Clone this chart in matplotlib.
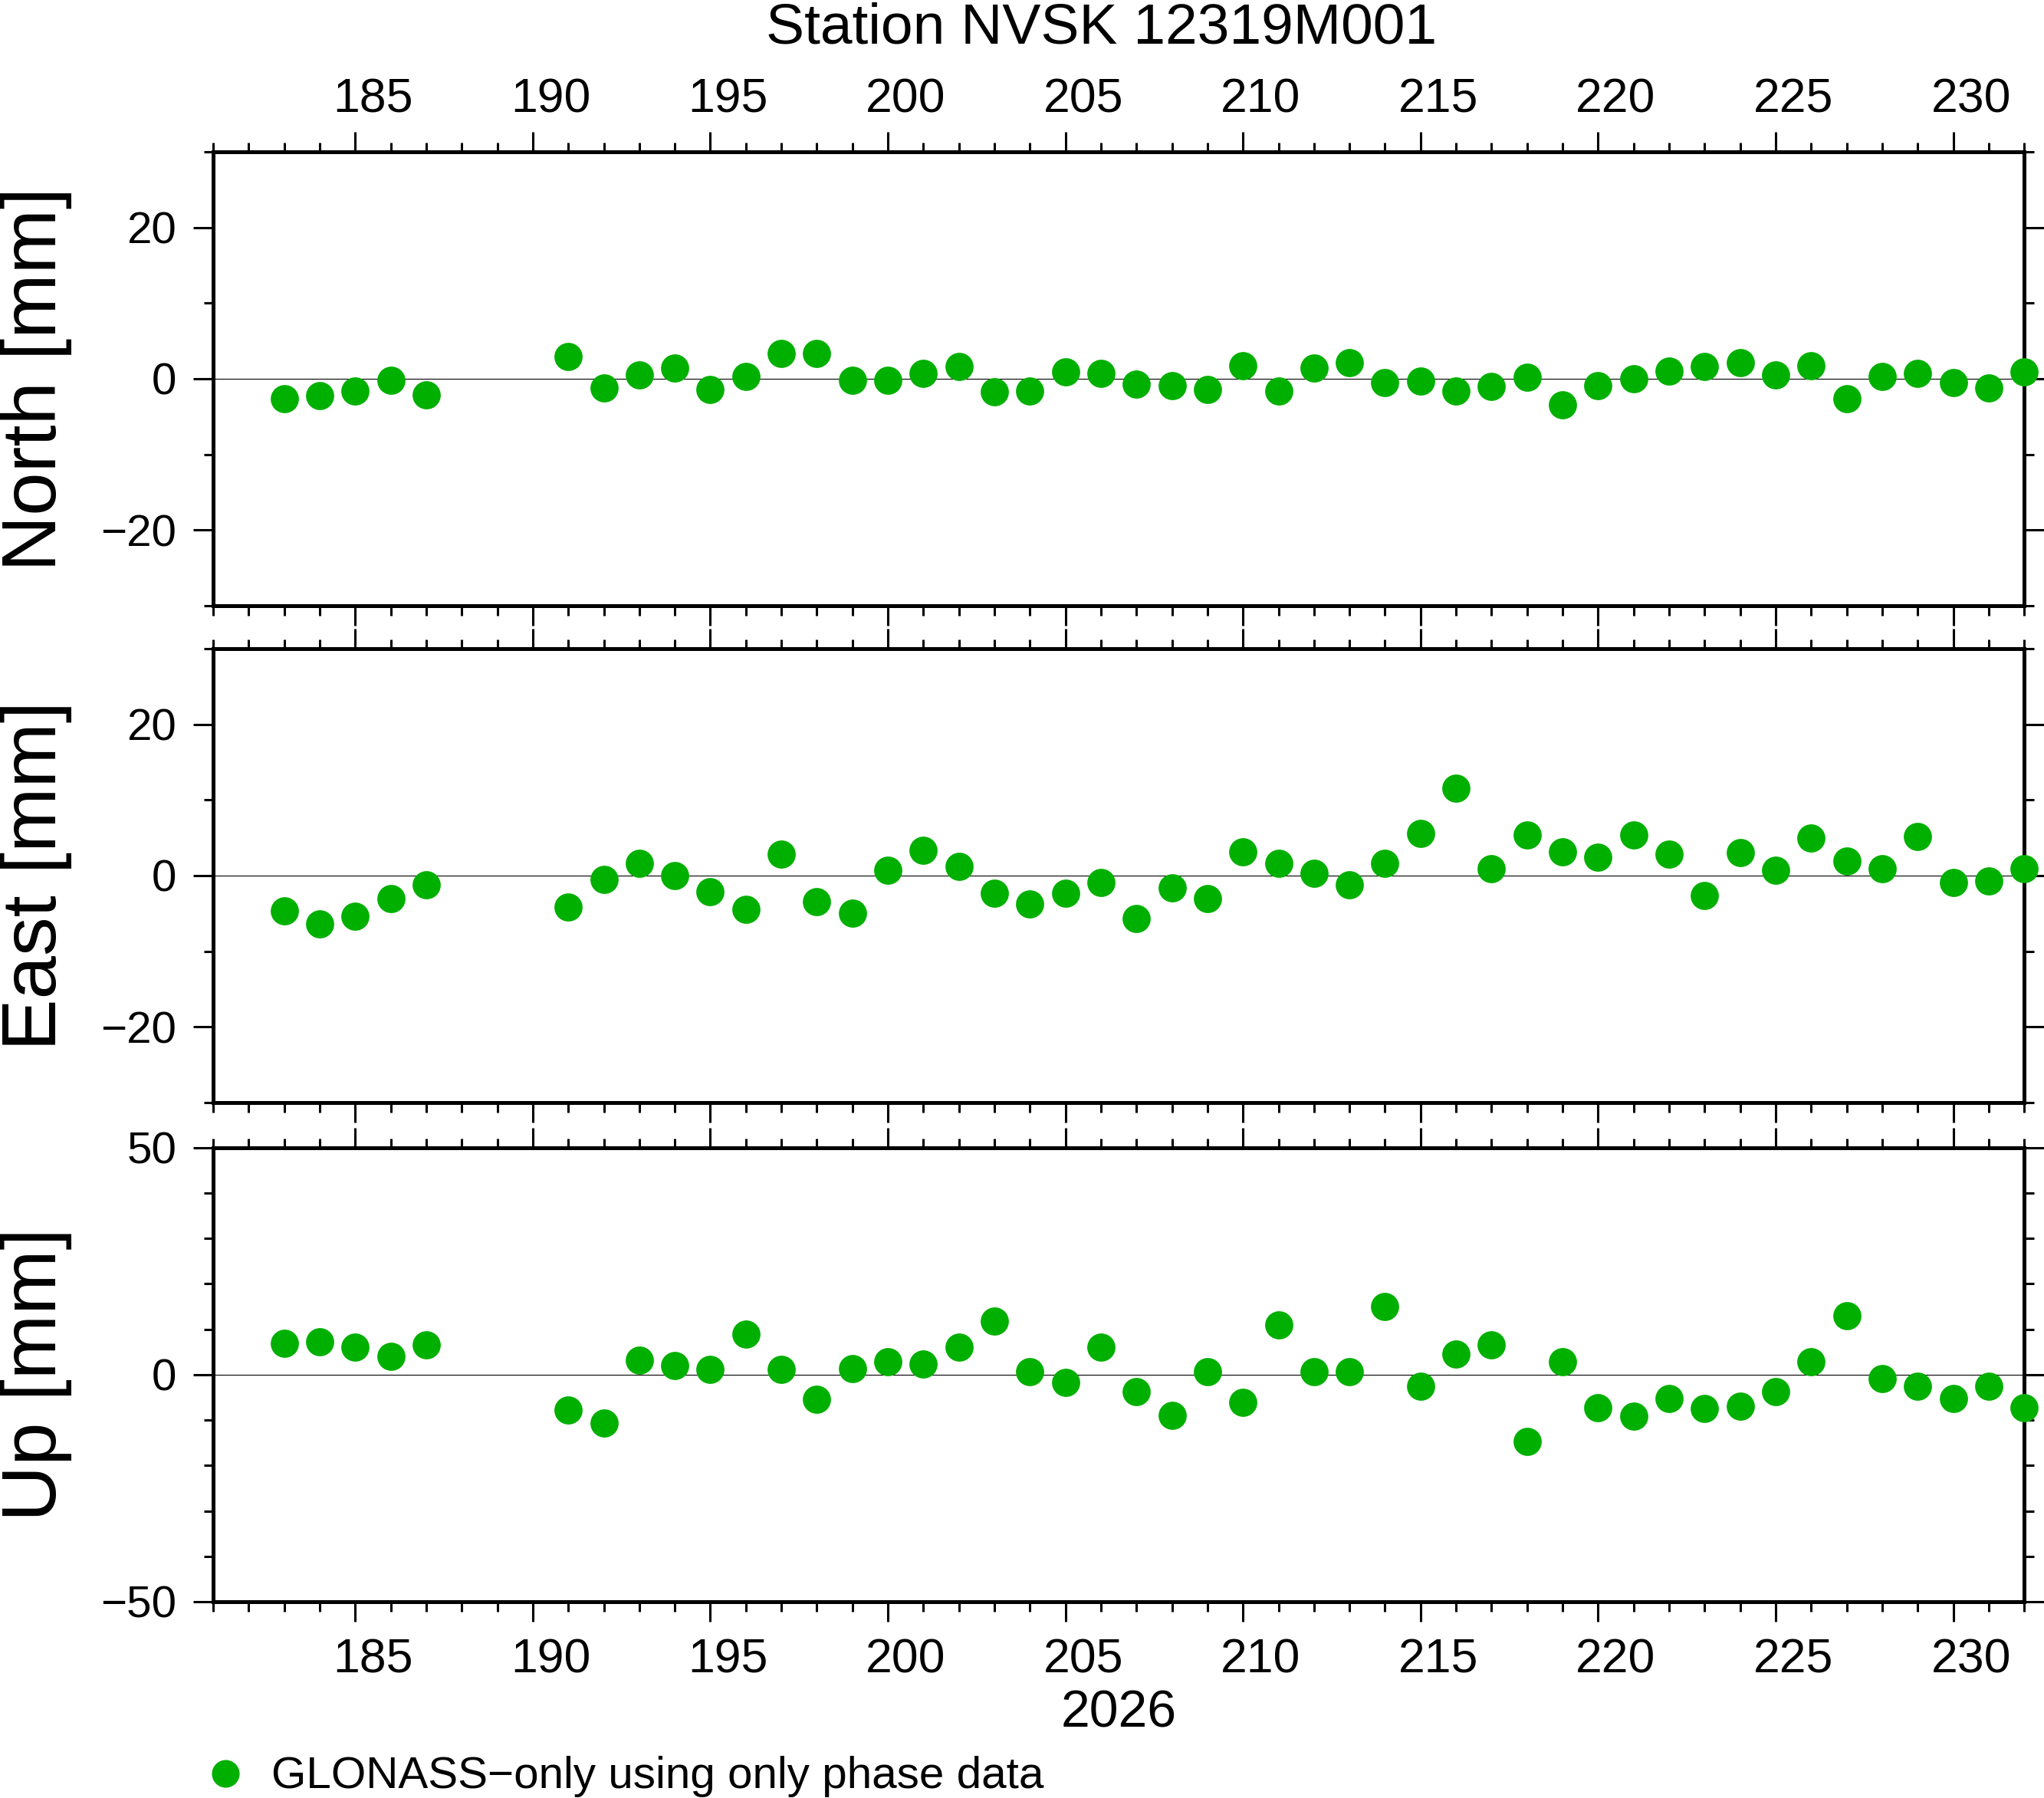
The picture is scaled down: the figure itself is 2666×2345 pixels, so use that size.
#Plot daily GLONASS station coordinate residuals (North, East, Up)

import matplotlib.pyplot as plt
from matplotlib.ticker import MultipleLocator
from matplotlib.lines import Line2D
from matplotlib.transforms import ScaledTranslation

plt.rcParams['font.family'] = ['Liberation Sans', 'DejaVu Sans']

# day of year 2026
days = [183, 184, 185, 186, 187,
        191, 192, 193, 194, 195, 196, 197, 198, 199, 200,
        201, 202, 203, 204, 205, 206, 207, 208, 209, 210,
        211, 212, 213, 214, 215, 216, 217, 218, 219, 220,
        221, 222, 223, 224, 225, 226, 227, 228, 229, 230,
        231, 232]

north = [-2.6, -2.2, -1.6, -0.2, -2.1,
         2.9, -1.2, 0.5, 1.4, -1.4, 0.3, 3.3, 3.3, -0.2, -0.2,
         0.7, 1.6, -1.7, -1.6, 0.9, 0.7, -0.7, -0.9, -1.4, 1.7,
         -1.6, 1.4, 2.1, -0.5, -0.3, -1.6, -1.0, 0.2, -3.4, -0.9,
         0.0, 1.0, 1.6, 2.1, 0.5, 1.7, -2.6, 0.3, 0.7, -0.5,
         -1.2, 0.9]

east = [-4.7, -6.4, -5.4, -3.1, -1.2,
        -4.2, -0.5, 1.6, 0.0, -2.1, -4.5, 2.8, -3.5, -5.0, 0.7,
        3.3, 1.2, -2.3, -3.8, -2.3, -0.9, -5.7, -1.6, -3.0, 3.1,
        1.6, 0.3, -1.2, 1.6, 5.6, 11.5, 0.9, 5.4, 3.1, 2.4,
        5.4, 2.8, -2.6, 3.0, 0.7, 5.0, 1.9, 0.9, 5.2, -0.9,
        -0.7, 0.9]

up = [6.9, 7.2, 6.1, 4.0, 6.6,
      -7.8, -10.7, 3.2, 2.0, 1.2, 9.0, 1.2, -5.5, 1.4, 2.9,
      2.3, 6.1, 11.8, 0.6, -1.7, 6.1, -3.8, -9.0, 0.6, -6.1,
      11.0, 0.6, 0.6, 15.0, -2.6, 4.6, 6.6, -14.7, 2.9, -7.2,
      -9.2, -5.2, -7.5, -6.9, -3.8, 2.9, 13.0, -0.9, -2.6, -5.2,
      -2.6, -7.2]

labels = ["North [mm]", "East [mm]", "Up [mm]"]
limits = [30, 30, 50]
majors = [20, 20, 50]

green = '#00b000'

fig = plt.figure(figsize=(26.66, 23.45), dpi=100)

# day labels sit in the middle of the day, half a day right of the tick
half_day = ScaledTranslation(0.2316, 0, fig.dpi_scale_trans)

bottoms = [0.6631, 0.3868, 0.1092]
for i, vals in enumerate([north, east, up]):
    ax = fig.add_axes([0.1043, bottoms[i], 0.8860, 0.2525])
    ax.axhline(0, color='black', lw=0.8, zorder=1)
    ax.scatter(days, vals, s=700, color=green, linewidths=0, zorder=3, clip_on=False)
    ax.set_xlim(181, 232)
    ax.set_ylim(-limits[i], limits[i])
    ax.set_xticks(range(185, 232, 5))
    ax.xaxis.set_minor_locator(MultipleLocator(1))
    ax.yaxis.set_major_locator(MultipleLocator(majors[i]))
    ax.yaxis.set_minor_locator(MultipleLocator(10))
    ax.tick_params(which='both', direction='out', top=True, right=True, width=2.2)
    ax.tick_params(which='major', length=18.5)
    ax.tick_params(which='minor', length=9)
    ax.tick_params(axis='x', labeltop=(i == 0), labelbottom=(i == 2), labelsize=45,
                   pad=(9 if i == 0 else 15))
    ax.tick_params(axis='y', labelsize=42, pad=16)
    for tick in ax.xaxis.get_major_ticks():
        tick.label1.set_transform(tick.label1.get_transform() + half_day)
        tick.label2.set_transform(tick.label2.get_transform() + half_day)
    for sp in ax.spines.values():
        sp.set_linewidth(3.6)
    yc = bottoms[i] + 0.2525 / 2
    fig.text(0.0175, yc, labels[i], rotation=90, ha='center', va='center', fontsize=73)

fig.text(0.539, 0.9757, "Station NVSK 12319M001", ha='center', va='baseline', fontsize=54)
fig.text(0.5473, 0.0396, "2026", ha='center', va='baseline', fontsize=49)

# legend
fig.add_artist(Line2D([294 / 2666], [1 - 2313 / 2345], marker='o', markersize=26,
                      color=green, markeredgewidth=0, transform=fig.transFigure))
fig.text(354 / 2666, 0.0055, "GLONASS\u2212only using only phase data",
         ha='left', va='baseline', fontsize=42)

plt.savefig('out.png', dpi=100)
